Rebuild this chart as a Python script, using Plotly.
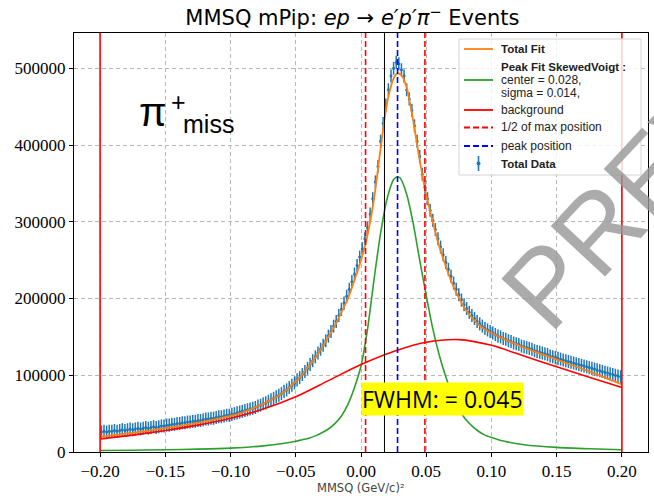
import numpy as np
import plotly.graph_objects as go

# ---------------- data ----------------
BIN_START = -0.199
BIN_WIDTH = 0.002
# histogram counts (thousands), one per bin
DATA_K = [
    26, 27, 26, 27, 27, 28, 27, 28, 29, 28, 29, 30, 29, 30, 31, 30, 31, 32, 31, 32,
    33, 32, 33, 34, 34, 35, 35, 36, 36, 37, 37, 38, 38, 39, 39, 40, 40, 41, 41, 42,
    43, 43, 44, 44, 45, 46, 46, 47, 48, 48, 49, 50, 51, 52, 53, 54, 55, 56, 57, 58,
    60, 61, 63, 64, 66, 68, 70, 72, 74, 76, 79, 81, 84, 87, 90, 94, 97, 101, 105, 109,
    114, 119, 124, 129, 134, 139, 145, 151, 157, 164, 170, 178, 186, 194, 203, 212, 222, 232, 243, 254,
    265, 278, 292, 310, 330, 352, 372, 405, 428, 452, 472, 490, 500, 508, 506, 498, 490, 472, 460, 445,
    425, 405, 385, 362, 345, 330, 315, 302, 290, 278, 267, 257, 247, 238, 229, 220, 212, 205, 198, 192,
    187, 182, 178, 174, 170, 167, 164, 161, 159, 157, 155, 153, 151, 150, 148, 147, 145, 144, 142, 141,
    140, 138, 137, 136, 135, 134, 132, 131, 130, 129, 128, 127, 125, 124, 123, 122, 121, 120, 119, 118,
    117, 116, 115, 114, 113, 112, 111, 110, 109, 108, 107, 106, 105, 104, 103, 102, 101, 100, 99, 98,
]
DATA_ERR = 8500

FIT_X = [-0.20, -0.175, -0.15, -0.125, -0.10, -0.09, -0.08, -0.07, -0.06, -0.05, -0.045, -0.04,
         -0.035, -0.03, -0.025, -0.02, -0.015, -0.01, -0.005, 0.0, 0.005, 0.010, 0.015, 0.020,
         0.025, 0.028, 0.031, 0.035, 0.040, 0.045, 0.050, 0.055, 0.060, 0.065, 0.070, 0.075,
         0.080, 0.085, 0.090, 0.095, 0.100, 0.110, 0.125, 0.150, 0.175, 0.200]
FIT_K = [20, 25, 31, 38, 47, 52, 59, 67, 77, 92, 101, 112,
         123, 136, 150, 165, 182, 200, 224, 250, 283, 330, 395, 455,
         487, 493.5, 491, 475, 432, 380, 335, 300, 268, 242, 219, 201,
         186, 175, 166, 160, 155, 147, 136, 120.5, 105, 88]

PEAK_X = [-0.20, -0.175, -0.15, -0.125, -0.10, -0.075, -0.06, -0.05, -0.045, -0.04, -0.035,
          -0.03, -0.025, -0.02, -0.015, -0.01, -0.005, 0.0, 0.005, 0.010, 0.015, 0.020, 0.025,
          0.028, 0.030, 0.035, 0.040, 0.045, 0.050, 0.055, 0.060, 0.065, 0.070, 0.075, 0.080,
          0.085, 0.090, 0.095, 0.10, 0.11, 0.125, 0.15, 0.175, 0.20]
PEAK_K = [2, 2.3, 3, 3.7, 5, 8, 11, 14, 16, 18, 21,
          25, 30, 37, 47, 62, 84, 112, 160, 225, 285, 330, 355,
          358.7, 357, 336, 298, 250, 204, 161, 126, 98, 74, 56, 43,
          34, 27, 22, 19, 14, 9.5, 6, 4.2, 3]

BG_X = [-0.20, -0.175, -0.15, -0.125, -0.10, -0.075, -0.05, -0.025, 0.0, 0.025, 0.05, 0.075,
        0.10, 0.125, 0.15, 0.175, 0.20]
BG_K = [17, 22, 28, 35, 44, 56, 72, 93, 114, 131, 143, 146.5,
        139, 125, 111, 97.5, 84]

RANGE_EDGES = [-0.2, 0.2]
HALF_MAX_POS = [0.0035, 0.049]
PEAK_POS = 0.028
MEAN_POS = 0.018

X_TICKS = [-0.20, -0.15, -0.10, -0.05, 0.00, 0.05, 0.10, 0.15, 0.20]
X_TICK_TEXT = ["\u22120.20", "\u22120.15", "\u22120.10", "\u22120.05", "0.00", "0.05", "0.10", "0.15", "0.20"]
Y_TICKS = [0, 100000, 200000, 300000, 400000, 500000]
Y_TICK_TEXT = ["0", "100000", "200000", "300000", "400000", "500000"]

LEGEND_LABELS = ["<b>Total Fit</b>", "<b>Peak Fit SkewedVoigt :</b>", "center = 0.028,",
                 "sigma = 0.014,", "background", "1/2 of max position", "peak position",
                 "<b>Total Data</b>"]

K = 1000
data_x = BIN_START + BIN_WIDTH * np.arange(len(DATA_K))
data_y = np.array(DATA_K) * K

C_BLUE = "#1f77b4"
C_ORANGE = "#ff7f0e"
C_GREEN = "#2ca02c"
C_RED = "#ff0000"
C_PBLUE = "#0000ff"
DASH = "6px,3px"

# figure geometry (pixels) for placing the hand-built legend and labels
W, H = 654, 498
ML, MR, MT, MB = 74, 6, 33, 46
PW, PH = W - ML - MR, H - MT - MB


def px(x):
    return (x - ML) / PW


def py(y):
    return (H - MB - y) / PH


fig = go.Figure()

fig.add_trace(go.Scatter(
    x=data_x, y=data_y, mode="markers",
    marker=dict(size=3, color=C_BLUE),
    error_y=dict(type="constant", value=DATA_ERR, color=C_BLUE, thickness=1.5, width=0),
    name="Total Data", showlegend=False,
))
fig.add_trace(go.Scatter(
    x=FIT_X, y=np.array(FIT_K) * K, mode="lines",
    line=dict(color=C_ORANGE, width=1.8, shape="spline", smoothing=0.7),
    name="Total Fit", showlegend=False,
))
fig.add_trace(go.Scatter(
    x=PEAK_X, y=np.array(PEAK_K) * K, mode="lines",
    line=dict(color=C_GREEN, width=1.6, shape="spline", smoothing=0.7),
    name="Peak Fit", showlegend=False,
))
fig.add_trace(go.Scatter(
    x=BG_X, y=np.array(BG_K) * K, mode="lines",
    line=dict(color=C_RED, width=1.6, shape="spline", smoothing=0.8),
    name="background", showlegend=False,
))

shapes = []
for xv in RANGE_EDGES:
    shapes.append(dict(type="line", xref="x", yref="paper", x0=xv, x1=xv, y0=0, y1=1,
                       line=dict(color=C_RED, width=1.6), layer="above"))
for xv in HALF_MAX_POS:
    shapes.append(dict(type="line", xref="x", yref="paper", x0=xv, x1=xv, y0=0, y1=1,
                       line=dict(color=C_RED, width=1.6, dash=DASH), layer="above"))
shapes.append(dict(type="line", xref="x", yref="paper", x0=MEAN_POS, x1=MEAN_POS, y0=0, y1=1,
                   line=dict(color="#000000", width=1), layer="above"))
shapes.append(dict(type="line", xref="x", yref="paper", x0=PEAK_POS, x1=PEAK_POS, y0=0, y1=1,
                   line=dict(color=C_PBLUE, width=1.6, dash=DASH), layer="above"))

# ---- hand-built legend (matplotlib style) ----
LX0, LX1, LY0, LY1 = 459, 641, 39, 175
shapes.append(dict(type="rect", xref="paper", yref="paper",
                   x0=px(LX0), x1=px(LX1), y0=py(LY1), y1=py(LY0),
                   fillcolor="rgba(255,255,255,0.82)", line=dict(color="#d4d4d4", width=1),
                   layer="above"))
SX0, SX1 = 464, 493
sample_rows = [(49, C_ORANGE, None), (80, C_GREEN, None), (110, C_RED, None),
               (127.5, C_RED, DASH), (146, C_PBLUE, DASH)]
for yy, col, dsh in sample_rows:
    ln = dict(color=col, width=1.8)
    if dsh:
        ln["dash"] = dsh
    shapes.append(dict(type="line", xref="paper", yref="paper",
                       x0=px(SX0), x1=px(SX1), y0=py(yy), y1=py(yy), line=ln, layer="above"))
# errorbar sample
shapes.append(dict(type="line", xref="paper", yref="paper",
                   x0=px(478.5), x1=px(478.5), y0=py(156), y1=py(171),
                   line=dict(color=C_BLUE, width=1.6), layer="above"))
shapes.append(dict(type="circle", xref="paper", yref="paper",
                   x0=px(476.5), x1=px(480.5), y0=py(165.5), y1=py(161.5),
                   fillcolor=C_BLUE, line=dict(color=C_BLUE, width=0), layer="above"))

annotations = []
label_rows = [49, 67, 80, 93, 110, 127.5, 146, 163.5]
for lab, yy in zip(LEGEND_LABELS, label_rows):
    bold = lab.startswith("<b>")
    annotations.append(dict(xref="paper", yref="paper", x=px(499), y=py(yy),
                            xanchor="left", yanchor="middle", text=lab, showarrow=False,
                            font=dict(family="Liberation Sans", size=11.5 if bold else 12,
                                      color="#222222")))

# pi+ miss label
annotations += [
    dict(xref="paper", yref="paper", x=px(137), y=py(112), xanchor="left", yanchor="middle",
         text="\u03c0", showarrow=False, font=dict(family="Liberation Sans", size=40, color="#000000")),
    dict(xref="paper", yref="paper", x=px(178), y=py(102), xanchor="center", yanchor="middle",
         text="+", showarrow=False, font=dict(family="Liberation Sans", size=25, color="#000000")),
    dict(xref="paper", yref="paper", x=px(181), y=py(124), xanchor="left", yanchor="middle",
         text="miss", showarrow=False, font=dict(family="Liberation Sans", size=25, color="#000000")),
]

annotations += [
    dict(xref="paper", yref="paper", x=px(442.5), y=py(399), xanchor="center", yanchor="middle",
         text="FWHM: = 0.045", showarrow=False, bgcolor="#ffff00", borderpad=0,
         font=dict(family="Open Sans", size=23, color="#000000")),
    dict(xref="paper", yref="paper", x=0.5, y=py(488), xanchor="center", yanchor="middle",
         text="MMSQ (GeV/c)\u00b2", showarrow=False,
         font=dict(family="DejaVu Sans", size=11.5, color="#444444")),
    dict(xref="paper", yref="paper", x=1.076, y=0.773, xanchor="center", yanchor="middle",
         text="PREVIEW", showarrow=False, textangle=-47,
         font=dict(family="Liberation Sans", size=108, color="rgba(150,150,150,0.8)")),
]

fig.update_layout(
    width=W, height=H,
    margin=dict(l=ML, r=MR, t=MT, b=MB),
    paper_bgcolor="white", plot_bgcolor="white",
    title=dict(text="MMSQ mPip: <i>ep</i> \u2192 <i>e\u2032p\u2032\u03c0</i><sup>\u2212</sup> Events",
               x=0.485, xref="paper", xanchor="center", y=1 - 18 / H, yanchor="middle",
               font=dict(family="DejaVu Sans", size=21, color="#000000")),
    showlegend=False,
    shapes=shapes,
    annotations=annotations,
)
fig.update_xaxes(
    range=[-0.22, 0.22], tickvals=X_TICKS, ticktext=X_TICK_TEXT,
    showline=True, linecolor="#000000", linewidth=1, mirror=True,
    ticks="outside", ticklen=4, tickcolor="#000000",
    showgrid=True, gridcolor="#b8b8b8", gridwidth=0.8, griddash="4px,3px",
    zeroline=False,
    tickfont=dict(family="Liberation Serif", size=17, color="#000000"),
)
fig.update_yaxes(
    range=[0, 546000], tickvals=Y_TICKS, ticktext=Y_TICK_TEXT,
    showline=True, linecolor="#000000", linewidth=1, mirror=True,
    ticks="outside", ticklen=4, tickcolor="#000000",
    showgrid=True, gridcolor="#b8b8b8", gridwidth=0.8, griddash="4px,3px",
    zeroline=False,
    tickfont=dict(family="Liberation Serif", size=17, color="#000000"),
)

fig.write_html("out.html")
